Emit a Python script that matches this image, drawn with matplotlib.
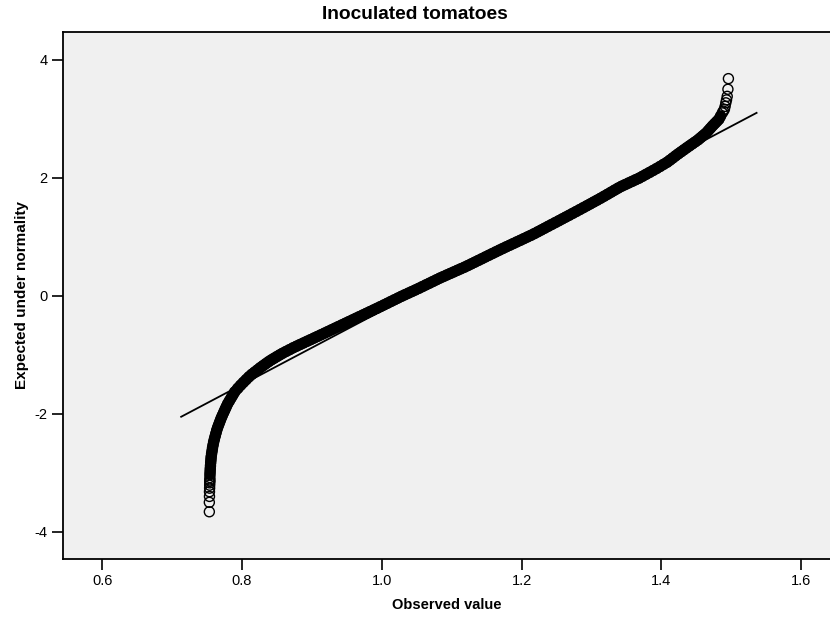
import matplotlib
matplotlib.use("Agg")
import matplotlib.pyplot as plt

plt.rcParams["font.family"] = ["Liberation Sans", "DejaVu Sans"]
plt.rcParams["axes.unicode_minus"] = False

# Normal Q-Q plot: observed value vs expected normal score
observed = [
    0.7533, 0.7533, 0.7535, 0.7535, 0.7537, 0.7538, 0.7539, 0.7540, 0.7540,
    0.7541, 0.7542, 0.7544, 0.7546, 0.7549, 0.7552, 0.7556, 0.7559, 0.7565,
    0.7572, 0.7578, 0.7586, 0.7594, 0.7605, 0.7616, 0.7627, 0.7638, 0.7652,
    0.7668, 0.7684, 0.7700, 0.7718, 0.7737, 0.7756, 0.7775, 0.7795, 0.7820,
    0.7845, 0.7870, 0.7895,
    0.794, 0.798, 0.802, 0.806, 0.810, 0.814, 0.818, 0.822, 0.826, 0.830,
    0.834, 0.838, 0.842, 0.846, 0.850, 0.854, 0.858, 0.863, 0.868, 0.873,
    0.878, 0.883, 0.888, 0.893, 0.898, 0.903, 0.908, 0.913, 0.918, 0.923,
    0.928, 0.933, 0.938, 0.943, 0.948, 0.953, 0.958, 0.963, 0.968, 0.973,
    0.978, 0.983, 0.988, 0.993, 0.998, 1.003, 1.008, 1.013, 1.018, 1.023,
    1.028, 1.033, 1.038, 1.043, 1.048, 1.053, 1.058, 1.063, 1.068, 1.073,
    1.078, 1.083, 1.088, 1.093, 1.098, 1.103, 1.108, 1.113, 1.118, 1.123,
    1.128, 1.133, 1.138, 1.143, 1.148, 1.153, 1.158, 1.163, 1.168, 1.173,
    1.178, 1.183, 1.188, 1.193, 1.198, 1.203, 1.208, 1.213, 1.218, 1.223,
    1.228, 1.233, 1.238, 1.243, 1.248, 1.253, 1.258, 1.263, 1.268, 1.273,
    1.278, 1.283, 1.288, 1.293, 1.298, 1.303, 1.308, 1.313, 1.318, 1.323,
    1.328, 1.333, 1.338, 1.343, 1.348, 1.353, 1.358, 1.363, 1.368, 1.373,
    1.378, 1.383, 1.388, 1.393, 1.398, 1.403, 1.408, 1.412, 1.416, 1.420,
    1.424, 1.428, 1.432, 1.436, 1.440, 1.444, 1.448, 1.452, 1.455, 1.458,
    1.461, 1.464, 1.467, 1.470, 1.473, 1.476, 1.479, 1.482, 1.4845, 1.487,
    1.4885, 1.490, 1.491, 1.492, 1.493, 1.494, 1.495, 1.4957,
]
expected = [
    -3.66, -3.50, -3.40, -3.32, -3.26, -3.21, -3.17, -3.14, -3.12,
    -3.08, -3.03, -2.98, -2.93, -2.88, -2.83, -2.78, -2.73, -2.68,
    -2.63, -2.58, -2.53, -2.48, -2.43, -2.38, -2.33, -2.28, -2.23,
    -2.18, -2.13, -2.08, -2.03, -1.98, -1.93, -1.88, -1.83, -1.78,
    -1.73, -1.68, -1.63,
    -1.568, -1.516, -1.467, -1.420, -1.373, -1.331, -1.294, -1.257, -1.219, -1.185,
    -1.151, -1.117, -1.086, -1.058, -1.029, -1.001, -0.974, -0.943, -0.913, -0.882,
    -0.854, -0.826, -0.799, -0.771, -0.744, -0.716, -0.689, -0.661, -0.633, -0.605,
    -0.577, -0.549, -0.521, -0.493, -0.465, -0.437, -0.409, -0.381, -0.353, -0.325,
    -0.297, -0.269, -0.241, -0.213, -0.184, -0.155, -0.126, -0.096, -0.067, -0.038,
    -0.009, 0.018, 0.045, 0.072, 0.099, 0.127, 0.156, 0.185, 0.213, 0.242,
    0.271, 0.300, 0.326, 0.353, 0.379, 0.405, 0.432, 0.458, 0.484, 0.512,
    0.541, 0.570, 0.599, 0.628, 0.658, 0.687, 0.716, 0.745, 0.774, 0.802,
    0.830, 0.857, 0.885, 0.913, 0.940, 0.968, 0.996, 1.023, 1.053, 1.084,
    1.115, 1.146, 1.178, 1.209, 1.240, 1.271, 1.303, 1.334, 1.365, 1.397,
    1.428, 1.460, 1.492, 1.524, 1.556, 1.589, 1.621, 1.654, 1.688, 1.722,
    1.757, 1.792, 1.826, 1.857, 1.884, 1.912, 1.939, 1.967, 1.994, 2.026,
    2.059, 2.091, 2.124, 2.157, 2.192, 2.228, 2.263, 2.298, 2.334, 2.371,
    2.406, 2.440, 2.474, 2.508, 2.541, 2.574, 2.607, 2.640, 2.670, 2.700,
    2.730, 2.760, 2.800, 2.840, 2.880, 2.917, 2.953, 2.990, 3.045, 3.100,
    3.13, 3.16, 3.21, 3.27, 3.32, 3.38, 3.50, 3.68,
]

# reference line of the fitted normal distribution
line_x = [0.713, 1.536]
line_y = [-2.05, 3.10]

x_ticks = [0.6, 0.8, 1.0, 1.2, 1.4, 1.6]
y_ticks = [-4, -2, 0, 2, 4]

fig = plt.figure(figsize=(8.3, 6.18), dpi=100)
ax = fig.add_axes([0.0759, 0.0955, 0.9241, 0.8527])
ax.set_facecolor("#f0f0f0")

ax.plot(line_x, line_y, color="black", lw=1.3, zorder=2)

# where thousands of circles pile up they merge into a solid band
dense = slice(10, len(observed) - 9)
ax.plot(observed[dense], expected[dense], color="black", lw=7.8,
        solid_capstyle="round", solid_joinstyle="round", zorder=3)
ax.scatter(observed, expected, s=52, facecolors="none", edgecolors="black",
           linewidths=1.0, zorder=4)

ax.set_xlim(0.544, 1.641)
ax.set_ylim(-4.46, 4.47)
ax.set_xticks(x_ticks)
ax.set_xticklabels([f"{v:.1f}" for v in x_ticks])
ax.set_yticks(y_ticks)
ax.tick_params(direction="out", length=8, width=1.2, labelsize=10.5, pad=3)

ax.spines["right"].set_visible(False)
for side in ("left", "bottom", "top"):
    ax.spines[side].set_linewidth(1.3)

ax.set_xlabel("Observed value", fontsize=10.5, fontweight="bold", labelpad=7)
ax.set_ylabel("Expected under normality", fontsize=11, fontweight="bold", labelpad=4)
fig.suptitle("Inoculated tomatoes", fontsize=13.8, fontweight="bold", x=0.5, y=0.99)

fig.savefig("out.png", dpi=100, facecolor="white")
